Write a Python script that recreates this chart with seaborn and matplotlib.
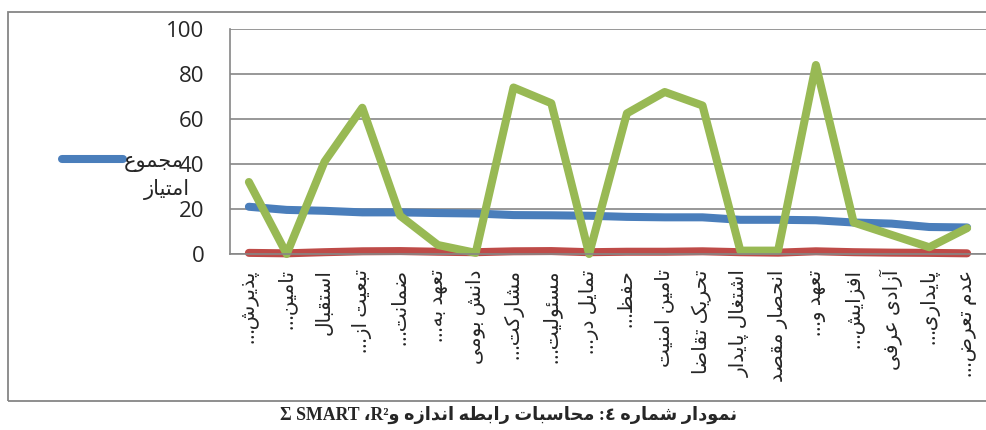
import matplotlib
matplotlib.use('Agg')
import matplotlib.pyplot as plt
from matplotlib.lines import Line2D
from matplotlib.patches import Rectangle
import seaborn as sns
import pandas as pd

# category labels (logical Persian order)
labels = ["پذیرش…", "تامین…", "استقبال", "تبعیت از…", "ضمانت…", "تعهد به…",
          "دانش بومی", "مشارکت…", "مسئولیت…", "تمایل در…", "حفظ…", "تامین امنیت",
          "تحریک تقاضا", "اشتغال پایدار", "انحصار مقصد", "تعهد و…", "افزایش…",
          "آزادی عرفی", "پایداری…", "عدم تعرض…"]
total_score = [21, 19.6, 19.2, 18.5, 18.5, 18.2, 18, 17.3, 17.2, 17,
               16.5, 16.3, 16.3, 15.2, 15.2, 15, 14, 13.5, 12, 11.8]
r2_values = [0.5, 0.3, 0.8, 1.2, 1.3, 1.0, 0.8, 1.2, 1.3, 0.8,
             1.0, 1.0, 1.2, 0.8, 0.6, 1.2, 0.8, 0.6, 0.5, 0.3]
smart_values = [32, 0, 41, 65, 17, 4, 0.5, 74, 67, 0,
                62.5, 72, 66, 1.5, 1.5, 84, 14, 8.5, 3, 11.5]
y_ticks = [0, 20, 40, 60, 80, 100]
legend_words = ["مجموع", "امتیاز"]
caption_fa = "نمودار شماره ٤: محاسبات رابطه اندازه"
caption_latin = "Σ SMART ،R²"

BLUE = "#4A7EBB"
RED = "#BE4B48"
GREEN = "#98B954"
GRAY = "#868686"


# --- tiny arabic/persian shaper (matplotlib has no bidi / shaping) ---
def _dual(b):
    return (b, b + 1, b + 2, b + 3)


def _right(b):
    return (b, b + 1, None, None)


FORMS = {
    'ء': (0xFE80, None, None, None), 'آ': _right(0xFE81), 'ا': _right(0xFE8D),
    'ئ': _dual(0xFE89), 'ب': _dual(0xFE8F), 'پ': _dual(0xFB56), 'ت': _dual(0xFE95),
    'ث': _dual(0xFE99), 'ج': _dual(0xFE9D), 'چ': _dual(0xFB7A), 'ح': _dual(0xFEA1),
    'خ': _dual(0xFEA5), 'د': _right(0xFEA9), 'ذ': _right(0xFEAB), 'ر': _right(0xFEAD),
    'ز': _right(0xFEAF), 'ژ': _right(0xFB8A), 'س': _dual(0xFEB1), 'ش': _dual(0xFEB5),
    'ص': _dual(0xFEB9), 'ض': _dual(0xFEBD), 'ط': _dual(0xFEC1), 'ظ': _dual(0xFEC5),
    'ع': _dual(0xFEC9), 'غ': _dual(0xFECD), 'ف': _dual(0xFED1), 'ق': _dual(0xFED5),
    'ک': _dual(0xFB8E), 'گ': _dual(0xFB92), 'ل': _dual(0xFEDD), 'م': _dual(0xFEE1),
    'ن': _dual(0xFEE5), 'ه': _dual(0xFEE9), 'و': _right(0xFEED), 'ی': _dual(0xFBFC),
}


def shape(text):
    out = []
    for i, c in enumerate(text):
        if c not in FORMS:
            out.append(c)
            continue
        prev = text[i - 1] if i > 0 else None
        nxt = text[i + 1] if i + 1 < len(text) else None
        jp = prev in FORMS and FORMS[prev][2] is not None
        jn = FORMS[c][2] is not None and nxt in FORMS and nxt != 'ء'
        iso, fin, ini, med = FORMS[c]
        if jp and jn:
            cp = med
        elif jp:
            cp = fin
        elif jn:
            cp = ini
        else:
            cp = iso
        out.append(chr(cp))
    return ''.join(reversed(out))


sns.set_style("white")
plt.rcParams['font.family'] = ['Open Sans', 'DejaVu Sans']

df = pd.DataFrame({
    "pos": list(range(len(labels))) * 3,
    "value": total_score + r2_values + smart_values,
    "series": ["total"] * len(labels) + ["R2"] * len(labels) + ["SMART"] * len(labels),
})

fig = plt.figure(figsize=(9.86, 4.30), dpi=100)
ax = fig.add_axes([230 / 986, 1 - 254 / 430, 756 / 986, 225 / 430])

sns.lineplot(data=df, x="pos", y="value", hue="series",
             hue_order=["total", "R2", "SMART"],
             palette={"total": BLUE, "R2": RED, "SMART": GREEN},
             linewidth=5.8, solid_capstyle='round', solid_joinstyle='round',
             legend=False, ax=ax, clip_on=False)

ax.set_ylim(0, 100)
ax.set_xlim(-0.5, 756 / 38.4 - 0.5)
ax.set_yticks(y_ticks)
ax.set_yticklabels([str(v) for v in y_ticks], fontsize=16)
ax.tick_params(axis='y', direction='inout', length=11, width=1, color=GRAY, pad=13)
ax.yaxis.grid(True, color=GRAY, linewidth=1.2)
ax.set_axisbelow(True)

ax.set_xticks(range(len(labels)))
ax.set_xticklabels([shape(t) for t in labels], rotation=90, fontsize=14.5)
ax.tick_params(axis='x', which='major', length=0, pad=11)
ax.set_xticks([i + 0.5 for i in range(-1, len(labels))], minor=True)
ax.tick_params(axis='x', which='minor', length=5, width=1, color=GRAY, direction='out')
ax.set_xlabel("")
ax.set_ylabel("")

for side in ["top", "right"]:
    ax.spines[side].set_visible(False)
for side in ["left", "bottom"]:
    ax.spines[side].set_color(GRAY)
    ax.spines[side].set_linewidth(1.2)

# legend (only the first entry is visible in the original)
handle = Line2D([], [], color=BLUE, linewidth=5.8, solid_capstyle='round')
leg = ax.legend(handles=[handle], labels=[shape(legend_words[0])],
                loc='center left', bbox_to_anchor=(58 / 986, 1 - 161 / 430),
                bbox_transform=fig.transFigure, frameon=False,
                handlelength=2.9, handletextpad=0.05, fontsize=15,
                borderaxespad=0, borderpad=0.2)
fig.text(167 / 986, 1 - 189 / 430, shape(legend_words[1]), ha='center', va='center',
         fontsize=15)

# outer chart frame
fig.add_artist(Rectangle((8 / 986, 1 - 401 / 430), 1.0, 389 / 430,
                         transform=fig.transFigure, fill=False,
                         edgecolor=GRAY, linewidth=1.3))

# caption under the chart
caption = caption_latin + chr(0xFEED) + " " + shape(caption_fa)
fig.text(509 / 986, 1 - 415 / 430, caption, ha='center', va='center',
         fontsize=12.8, fontweight='bold', family=['Liberation Serif', 'DejaVu Sans'])

fig.savefig("out.png", dpi=100)
